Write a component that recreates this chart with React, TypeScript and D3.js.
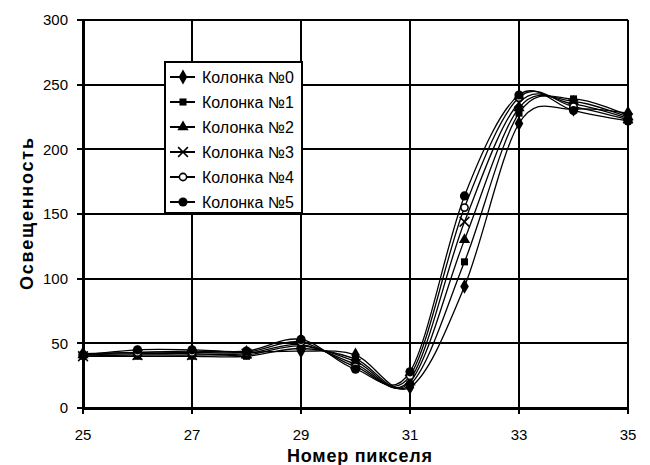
import React from "react";
import * as d3 from "d3";

const pixels = [25, 26, 27, 28, 29, 30, 31, 32, 33, 34, 35];
const seriesNames = ["Колонка №0", "Колонка №1", "Колонка №2", "Колонка №3", "Колонка №4", "Колонка №5"];
const col0 = [42, 43, 44, 43, 44, 41, 16, 94, 220, 231, 228];
const col1 = [40, 40, 40, 40, 46, 38, 18, 113, 228, 239, 226];
const col2 = [41, 42, 42, 41, 48, 36, 20, 130, 232, 237, 225];
const col3 = [40, 41, 41, 42, 49, 34, 22, 144, 236, 235, 224];
const col4 = [41, 43, 43, 43, 51, 32, 25, 155, 240, 233, 223];
const col5 = [41, 45, 45, 44, 53, 30, 28, 164, 242, 230, 222];
const xTicks = [25, 27, 29, 31, 33, 35];
const yTicks = [0, 50, 100, 150, 200, 250, 300];

const allSeries = [col0, col1, col2, col3, col4, col5];
const markerTypes = ["diamond", "square", "triangle", "x", "ocircle", "circle"];

const W = 650, H = 465;
const left = 83, right = 628, top = 20, bottom = 408;

function Marker({ type, x, y }: { type: string; x: number; y: number }) {
    const t = `translate(${x},${y})`;
    if (type === "diamond") return <path transform={t} d={d3.symbol(d3.symbolDiamond, 64)()!} fill="#000" />;
    if (type === "square") return <path transform={t} d={d3.symbol(d3.symbolSquare, 50)()!} fill="#000" />;
    if (type === "triangle") return <path transform={t} d={d3.symbol(d3.symbolTriangle, 55)()!} fill="#000" />;
    if (type === "x") return <path transform={t} d={d3.symbol(d3.symbolX, 64)()!} fill="none" stroke="#000" strokeWidth={1.5} />;
    if (type === "ocircle") return <circle cx={x} cy={y} r={3.6} fill="#fff" stroke="#000" strokeWidth={1.6} />;
    return <circle cx={x} cy={y} r={4.6} fill="#000" />;
}

export default function App() {
    const x = d3.scaleLinear().domain([25, 35]).range([left, right]);
    const y = d3.scaleLinear().domain([0, 300]).range([bottom, top]);
    const line = d3.line<number>()
        .x((d, i) => x(pixels[i]))
        .y(d => y(d))
        .curve(d3.curveCardinal.tension(0));

    const font = "Liberation Sans, Arial, sans-serif";
    const legX = 165, legY = 62, legW = 137, legH = 151;

    return (
        <svg width={W} height={H} style={{ position: "absolute", left: 0, top: 0, background: "#fff" }} fontFamily={font}>
            <rect x={0} y={0} width={W} height={H} fill="#fff" />
            {/* grid */}
            <g shapeRendering="crispEdges">
                {yTicks.map(t => (
                    <line key={"gy" + t} x1={left} x2={right} y1={y(t)} y2={y(t)} stroke="#000" strokeWidth={2} />
                ))}
                {xTicks.map(t => (
                    <line key={"gx" + t} x1={x(t)} x2={x(t)} y1={top} y2={bottom} stroke="#000" strokeWidth={2} />
                ))}
                {/* axes */}
                <line x1={left} x2={left} y1={top} y2={bottom} stroke="#000" strokeWidth={3} />
                <line x1={left} x2={right} y1={bottom} y2={bottom} stroke="#000" strokeWidth={3} />
                {yTicks.map(t => (
                    <line key={"ty" + t} x1={left - 6} x2={left} y1={y(t)} y2={y(t)} stroke="#000" strokeWidth={2} />
                ))}
                {xTicks.map(t => (
                    <line key={"tx" + t} x1={x(t)} x2={x(t)} y1={bottom} y2={bottom + 6} stroke="#000" strokeWidth={2} />
                ))}
            </g>
            {yTicks.map(t => (
                <text key={"yl" + t} x={left - 15} y={y(t)} dy="0.36em" textAnchor="end" fontSize={15}>{t}</text>
            ))}
            {xTicks.map(t => (
                <text key={"xl" + t} x={x(t)} y={bottom + 32} textAnchor="middle" fontSize={15}>{t}</text>
            ))}
            {/* series */}
            {allSeries.map((s, i) => (
                <path key={"l" + i} d={line(s)!} fill="none" stroke="#000" strokeWidth={1.3} />
            ))}
            {allSeries.map((s, i) => (
                <g key={"m" + i}>
                    {s.map((v, j) => <Marker key={j} type={markerTypes[i]} x={x(pixels[j])} y={y(v)} />)}
                </g>
            ))}
            {/* legend */}
            <rect x={legX} y={legY} width={legW} height={legH} fill="#fff" stroke="#000" strokeWidth={2} shapeRendering="crispEdges" />
            {seriesNames.map((n, i) => {
                const cy = legY + 15 + i * 25;
                return (
                    <g key={"lg" + i}>
                        <line x1={legX + 5} x2={legX + 30} y1={cy} y2={cy} stroke="#000" strokeWidth={2} />
                        <Marker type={markerTypes[i]} x={legX + 18} y={cy} />
                        <text x={legX + 37} y={cy} dy="0.35em" fontSize={16}>{n}</text>
                    </g>
                );
            })}
            {/* titles */}
            <text x={(287 + 432) / 2} y={462} textAnchor="middle" fontSize={18} fontWeight="bold"
                textLength={145} lengthAdjust="spacing">Номер пикселя</text>
            <text transform={`translate(33,214) rotate(-90)`} textAnchor="middle" fontSize={18} fontWeight="bold"
                textLength={152} lengthAdjust="spacing">Освещенность</text>
        </svg>
    );
}
